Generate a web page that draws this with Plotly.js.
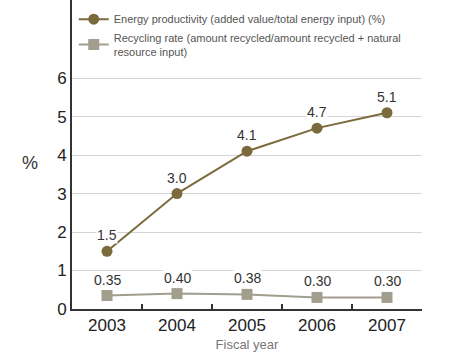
<!DOCTYPE html>
<html>
<head>
<meta charset="utf-8">
<script src="https://cdn.plot.ly/plotly-3.0.1.min.js"></script>
<style>
  html, body { margin: 0; padding: 0; background: #fff; }
  #chart { width: 453px; height: 354px; }
</style>
</head>
<body>
<div id="chart"></div>
<script>
// Fiscal years on the category axis
const years = ['2003', '2004', '2005', '2006', '2007'];

// Energy productivity (%)
const energyProductivity = [1.5, 3.0, 4.1, 4.7, 5.1];
const energyLabels = ['1.5', '3.0', '4.1', '4.7', '5.1'];

// Recycling rate (%)
const recyclingRate = [0.35, 0.40, 0.38, 0.30, 0.30];
const recyclingLabels = ['0.35', '0.40', '0.38', '0.30', '0.30'];

// Y axis ticks
const yTicks = [0, 1, 2, 3, 4, 5, 6];

const brown = '#7b6a3c';
const grey = '#a19e8e';
const sans = '"Liberation Sans", Arial, sans-serif';

const traces = [
  {
    x: years, y: energyProductivity, type: 'scatter', mode: 'lines+markers',
    name: 'Energy productivity (added value/total energy input) (%)',
    line: { color: brown, width: 2 },
    marker: { color: brown, size: 11, symbol: 'circle' },
    cliponaxis: false
  },
  {
    x: years, y: recyclingRate, type: 'scatter', mode: 'lines+markers',
    name: 'Recycling rate (amount recycled/amount recycled + natural<br>resource input)',
    line: { color: grey, width: 2 },
    marker: { color: grey, size: 11, symbol: 'square' },
    cliponaxis: false
  }
];

// Value labels sit above each point on a white patch
// (category axis: annotation x is the category's index)
function valueLabels(ys, texts) {
  return ys.map((v, i) => ({
    x: i, y: v, xref: 'x', yref: 'y', text: texts[i], showarrow: false,
    yshift: 16, bgcolor: '#ffffff', borderpad: 0,
    font: { family: sans, size: 14, color: '#333' }
  }));
}

// Horizontal unit label beside the y axis
const unitLabel = {
  text: '%', xref: 'paper', yref: 'paper', x: -0.12, y: 0.472,
  xanchor: 'center', yanchor: 'middle', showarrow: false,
  font: { family: sans, size: 18, color: '#333' }
};

const layout = {
  width: 453, height: 354,
  margin: { l: 72, r: 31, t: 0, b: 45, autoexpand: false },
  paper_bgcolor: '#fff', plot_bgcolor: '#fff',
  showlegend: true,
  legend: {
    x: 0.005, y: 0.985, xanchor: 'left', yanchor: 'top',
    font: { family: sans, size: 11, color: '#555' },
    bgcolor: 'rgba(0,0,0,0)', tracegroupgap: 4
  },
  xaxis: {
    type: 'category', range: [-0.5, 4.5],
    showline: true, linecolor: '#333', linewidth: 1.5,
    showgrid: false, zeroline: false,
    ticks: 'inside', tickson: 'boundaries', ticklen: 5, tickcolor: '#333', tickwidth: 1.5,
    tickangle: 0,
    tickfont: { family: sans, size: 17, color: '#222' },
    title: { text: 'Fiscal year', font: { family: sans, size: 13, color: '#777' }, standoff: 6 }
  },
  yaxis: {
    range: [0, 8.03], tickvals: yTicks,
    showline: true, linecolor: '#333', linewidth: 2,
    showgrid: true, gridcolor: '#d4d4d4', gridwidth: 1,
    zeroline: false, ticks: '',
    tickfont: { family: sans, size: 17, color: '#222' }
  },
  annotations: valueLabels(energyProductivity, energyLabels)
    .concat(valueLabels(recyclingRate, recyclingLabels))
    .concat([unitLabel])
};

Plotly.newPlot('chart', traces, layout, { displayModeBar: false, staticPlot: true });
</script>
</body>
</html>
